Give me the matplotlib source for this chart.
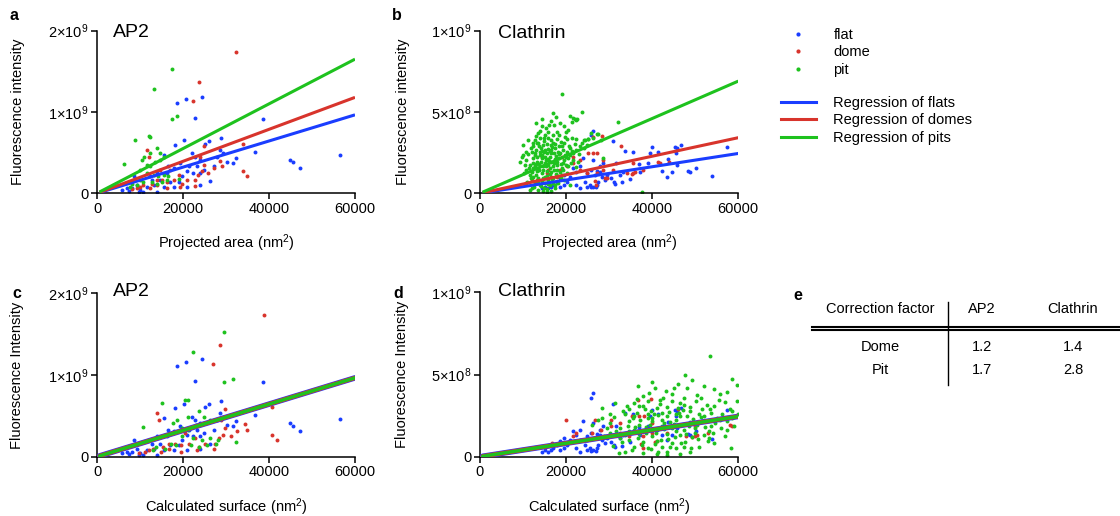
import numpy as np
import matplotlib.pyplot as plt
from matplotlib.lines import Line2D

plt.rcParams['font.family'] = ['Liberation Sans', 'DejaVu Sans']
plt.rcParams['mathtext.fontset'] = 'custom'
plt.rcParams['mathtext.rm'] = 'Liberation Sans'
plt.rcParams['mathtext.it'] = 'Liberation Sans:italic'

# AP2, projected area (nm2) vs intensity (x1e9)
ap2_flat = [(56500, 0.465), (47200, 0.31), (45500, 0.38), (44900, 0.41), (38500, 0.92), (36800, 0.51),
            (32300, 0.44), (30200, 0.39), (28900, 0.68), (29400, 0.49), (28600, 0.53), (24500, 1.19),
            (22700, 0.93), (20700, 1.16), (18700, 1.11), (20200, 0.65), (18100, 0.59), (26100, 0.64),
            (25200, 0.61), (26300, 0.15), (24000, 0.10), (22400, 0.25), (23200, 0.33), (20900, 0.27),
            (19400, 0.37), (17800, 0.31), (16300, 0.25), (15500, 0.47), (14700, 0.16), (13200, 0.10),
            (12400, 0.21), (11600, 0.08), (10100, 0.04), (9300, 0.10), (8500, 0.21), (8100, 0.06),
            (9700, 0.02), (10800, 0.02), (13900, 0.02), (15500, 0.08), (17000, 0.14), (19000, 0.14),
            (19700, 0.21), (21300, 0.33), (24000, 0.25), (24800, 0.29), (27100, 0.33), (31700, 0.37),
            (27900, 0.45), (13900, 0.25), (12800, 0.16), (24000, 0.41), (22800, 0.45), (22100, 0.49),
            (16600, 0.33), (17800, 0.08), (20900, 0.08), (7000, 0.06), (5800, 0.04), (7400, 0.03)]
ap2_dome = [(32300, 1.74), (23800, 1.37), (22400, 1.14), (33900, 0.61), (33900, 0.27), (34800, 0.21),
            (28600, 0.40), (24800, 0.58), (24000, 0.45), (24400, 0.27), (23600, 0.23), (27100, 0.31),
            (22800, 0.16), (22700, 0.09), (20900, 0.16), (19700, 0.12), (19000, 0.23), (17800, 0.16),
            (16300, 0.14), (13900, 0.16), (12800, 0.12), (11600, 0.53), (12000, 0.45), (10800, 0.10),
            (10100, 0.08), (9300, 0.06), (8100, 0.05), (14700, 0.29), (17000, 0.29), (15100, 0.16),
            (13900, 0.10), (24800, 0.35), (25900, 0.25), (29000, 0.33), (19400, 0.08), (16300, 0.06),
            (12400, 0.06)]
ap2_pit = [(17400, 1.53), (13200, 1.28), (18600, 0.95), (17400, 0.91), (12000, 0.70), (12400, 0.69),
           (8900, 0.66), (6300, 0.36), (11000, 0.45), (12400, 0.49), (13900, 0.56), (14600, 0.49),
           (11600, 0.35), (13500, 0.39), (14700, 0.41), (10100, 0.29), (11600, 0.25), (13200, 0.23),
           (14300, 0.21), (15100, 0.14), (13900, 0.12), (12800, 0.14), (10800, 0.14), (9300, 0.10),
           (7700, 0.08), (8100, 0.12), (10100, 0.16), (16300, 0.16), (15500, 0.23), (16600, 0.21),
           (12400, 0.33), (10400, 0.41), (15500, 0.45), (19000, 0.18)]

# Clathrin, projected area (nm2) vs intensity (x1e8)
clat_flat = [(57300, 2.84), (53800, 1.07), (50200, 1.54), (48800, 1.31), (48400, 1.38), (46800, 2.98),
             (45300, 2.84), (45700, 2.77), (45500, 2.47), (45800, 1.75), (44700, 1.30), (43500, 1.03),
             (42200, 1.35), (43700, 2.12), (41400, 2.57), (39900, 2.84), (39600, 2.47), (39100, 1.85),
             (37200, 1.34), (36900, 1.81), (35600, 2.57), (34800, 0.88), (33700, 2.63), (33100, 0.68),
             (33300, 1.34), (32500, 1.13), (31600, 1.89), (31100, 0.72), (31400, 0.58), (30800, 3.19),
             (30400, 0.92), (29400, 1.13), (29000, 0.82), (28300, 1.03), (27900, 1.65), (27100, 1.38),
             (26200, 2.05), (25900, 0.36), (27000, 0.36), (28600, 1.85),
             (26300, 3.85), (25900, 3.60), (24000, 2.16), (23200, 1.65), (22400, 1.34), (21700, 1.54),
             (20900, 1.03), (20100, 0.72), (19400, 0.51), (18600, 0.93), (17800, 0.72), (17000, 0.51),
             (16600, 0.41), (15900, 0.31), (15100, 0.41), (14300, 0.31), (22400, 0.51), (23200, 0.31),
             (24400, 0.72), (24800, 0.41), (25500, 0.51), (26300, 0.41), (27100, 0.51), (27500, 0.72),
             (24800, 1.23), (25900, 1.44), (26700, 1.13), (27900, 1.34), (19400, 1.13), (18600, 0.41)]
clat_dome = [(26200, 3.45), (32800, 2.88), (35600, 1.85), (41400, 1.91), (44000, 1.91), (28600, 2.05),
             (28600, 1.44), (26300, 2.47), (27200, 2.47), (31000, 1.44), (34100, 1.23), (35200, 1.17),
             (36000, 1.34), (29000, 0.92), (27000, 0.51), (26700, 0.75), (29400, 0.96),
             (28300, 3.50), (25200, 2.47), (23200, 2.06), (21700, 1.85), (20100, 1.65), (18600, 1.44),
             (17800, 1.03), (16600, 1.03), (15500, 1.23), (14300, 2.26), (15900, 1.44), (13200, 0.82),
             (12000, 0.82), (10800, 0.62), (23200, 1.44), (24800, 1.23), (27100, 1.23), (35600, 1.23),
             (37900, 1.44), (41800, 1.89), (19000, 2.26), (21700, 2.26)]
clat_pit = [(19100, 6.11), (14300, 4.57), (17000, 4.94), (17600, 4.69), (22100, 4.58), (22600, 4.56),
            (21300, 4.38), (14500, 4.16), (16100, 4.18), (17200, 4.18), (18600, 4.32), (20500, 3.91),
            (18000, 3.74), (18300, 3.60), (19900, 3.80), (11200, 3.29), (12800, 3.29), (13900, 3.40),
            (14900, 3.43), (15900, 3.40), (16600, 3.29), (10100, 2.94), (12400, 2.88), (13500, 3.09),
            (14700, 2.98), (15500, 3.02), (16400, 2.94), (17400, 3.02), (18400, 2.88), (19400, 3.09),
            (20300, 3.33), (21300, 3.40), (22400, 3.35), (24100, 3.29), (25200, 3.35), (12000, 2.57),
            (13000, 2.67), (13900, 2.57), (15100, 2.67), (16300, 2.61), (17200, 2.47), (18200, 2.57),
            (19200, 2.67), (20100, 2.57), (20900, 2.37), (21700, 2.47), (22400, 2.67), (9300, 1.95),
            (10800, 2.05), (12400, 2.16), (13300, 2.26), (14300, 2.16), (15300, 2.05), (16300, 2.26),
            (17400, 2.12), (18400, 2.20), (19500, 2.05), (20500, 2.16), (11600, 1.75), (12800, 1.65),
            (13800, 1.79), (14700, 1.65), (15900, 1.75), (16900, 1.65), (17800, 1.75), (19000, 1.58),
            (20000, 1.75), (10800, 1.44), (12000, 1.30), (13200, 1.38), (14300, 1.23), (15500, 1.38),
            (16600, 1.30), (17600, 1.17), (18600, 1.30), (12400, 1.03), (13500, 0.92), (14700, 0.96),
            (15900, 0.82), (17000, 0.92), (12800, 0.62), (13900, 0.51), (15100, 0.62), (16300, 0.51),
            (12000, 0.31), (13500, 0.20), (14700, 0.14), (15500, 0.27), (16600, 0.14), (11500, 0.20),
            (13200, 3.09), (14200, 2.78), (15500, 2.47), (16600, 1.95), (17800, 1.44), (19000, 1.13),
            (13900, 2.37), (15100, 1.85), (16300, 1.54), (13200, 1.95), (12400, 1.54), (11600, 1.13),
            (10800, 2.57), (10100, 2.37), (17400, 2.78), (18600, 2.47), (19700, 2.37), (20900, 2.78),
            (23200, 2.88), (23600, 3.09), (21700, 2.05), (22800, 1.95), (20500, 1.65), (19400, 0.82),
            (18200, 0.62), (17400, 0.31), (15500, 0.10), (14300, 2.37), (14900, 3.23), (15900, 3.80),
            (16900, 3.60), (13500, 3.70), (12800, 2.47), (13500, 1.54), (14600, 1.44), (15600, 1.09),
            (16900, 0.62), (18000, 1.95), (19200, 1.85), (16600, 2.47), (15100, 2.26),
            (37700, 0.08), (32100, 4.36), (27300, 3.66), (28500, 2.16), (28200, 3.29), (23600, 5.00),
            (21700, 4.63), (22400, 4.53), (25900, 3.70), (27100, 3.64), (25200, 3.33), (26300, 3.40),
            (24400, 3.29),
            (11900, 2.81), (12700, 2.33), (13700, 2.93), (14100, 1.91), (14800, 2.52), (15700, 2.71),
            (16100, 1.99), (16800, 2.84), (17700, 2.31), (18700, 1.78), (12300, 1.87), (13100, 1.12),
            (13800, 1.46), (14500, 0.78), (15300, 1.66), (16200, 1.18), (17100, 1.41), (18100, 1.06),
            (19300, 1.42), (11300, 1.58), (11800, 0.92), (12600, 0.41), (13400, 0.71), (14200, 0.44),
            (15000, 1.01), (15800, 0.58), (16700, 0.86), (17500, 0.54), (18900, 0.97), (20300, 1.24),
            (21100, 1.88), (20700, 2.92), (19800, 3.46), (18800, 3.17), (17900, 3.36), (16900, 3.12),
            (15200, 3.58), (14000, 3.86), (13000, 3.54), (12200, 3.11), (11100, 2.42), (10500, 1.72),
            (9800, 2.21), (10300, 1.24), (11000, 0.68), (12900, 1.83), (14400, 2.62), (15800, 2.12),
            (16500, 2.66), (17300, 1.87), (18300, 2.41), (19100, 2.91), (19900, 2.23), (21400, 2.62),
            (22000, 3.02), (23000, 2.43), (24200, 2.78), (24900, 2.94), (22200, 1.64), (20800, 0.52),
            (16400, 4.42), (15400, 4.02), (19400, 4.12), (20900, 4.74), (13100, 4.31), (14800, 0.31)]

# correction factors (surface / projected area)
shapes = ['Dome', 'Pit']
ap2_factor = [1.2, 1.7]
clat_factor = [1.4, 2.8]

# regression values at 60000 nm2 (flat, dome, pit)
ap2_fit_end = [0.965, 1.18, 1.65]      # x1e9
clat_fit_end = [2.45, 3.42, 6.9]       # x1e8

BLUE = '#1a3dff'
RED = '#d8342c'
GREEN = '#1ec21e'
DOT = 8

W, H = 1120, 516
fig = plt.figure(figsize=(W / 100, H / 100), dpi=100)


def rect(left, top, right, bottom):
    return [left / W, 1 - bottom / H, (right - left) / W, (bottom - top) / H]


def style_axis(ax, ymax, yticks, ylabels, xlabel, ylabel, ylab_x):
    for s in ['top', 'right']:
        ax.spines[s].set_visible(False)
    for s in ['left', 'bottom']:
        ax.spines[s].set_linewidth(1.1)
    ax.set_xlim(0, 60000)
    ax.set_ylim(0, ymax)
    ax.set_xticks([0, 20000, 40000, 60000])
    ax.set_xticklabels(['0', '20000', '40000', '60000'])
    ax.set_yticks(yticks)
    ax.set_yticklabels(ylabels)
    ax.tick_params(direction='out', length=4, width=1.1, labelsize=10.5, pad=2)
    ax.set_xlabel(xlabel, fontsize=10.5)
    ax.set_ylabel(ylabel, fontsize=10.5)
    ax.xaxis.set_label_coords(0.5, -0.24)
    ax.yaxis.set_label_coords(ylab_x, 0.5)


def pts(lst, xscale=1.0, yscale=1.0):
    a = np.array(lst, dtype=float)
    return a[:, 0] * xscale, a[:, 1] * yscale


line_x = np.array([600, 60000])

ap2_ticks = [0, 1e9, 2e9]
ap2_labels = ['0', r'1×10$^{9}$', r'2×10$^{9}$']
clat_ticks = [0, 5e8, 1e9]
clat_labels = ['0', r'5×10$^{8}$', r'1×10$^{9}$']
proj_label = r'Projected area (nm$^{2}$)'
surf_label = r'Calculated surface (nm$^{2}$)'

# a: AP2 projected
ax = fig.add_axes(rect(97, 30.7, 355, 193.3))
for data, c in [(ap2_flat, BLUE), (ap2_dome, RED), (ap2_pit, GREEN)]:
    x, y = pts(data, 1, 1e9)
    ax.scatter(x, y, s=DOT, color=c, linewidths=0, zorder=2)
for end, c in zip(ap2_fit_end, [BLUE, RED, GREEN]):
    ax.plot(line_x, line_x * end * 1e9 / 60000, color=c, lw=2.2, zorder=3, solid_capstyle='butt')
style_axis(ax, 2e9, ap2_ticks, ap2_labels, proj_label, 'Fluorescence intensity', -0.28)
ax.text(0.062, 0.99, 'AP2', transform=ax.transAxes, fontsize=14, va='center')

# b: Clathrin projected
ax = fig.add_axes(rect(480, 30.7, 738.3, 193.3))
for data, c in [(clat_flat, BLUE), (clat_dome, RED), (clat_pit, GREEN)]:
    x, y = pts(data, 1, 1e8)
    ax.scatter(x, y, s=DOT, color=c, linewidths=0, zorder=2)
for end, c in zip(clat_fit_end, [BLUE, RED, GREEN]):
    ax.plot(line_x, line_x * end * 1e8 / 60000, color=c, lw=2.2, zorder=3, solid_capstyle='butt')
style_axis(ax, 1e9, clat_ticks, clat_labels, proj_label, 'Fluorescence intensity', -0.27)
ax.text(0.07, 0.985, 'Clathrin', transform=ax.transAxes, fontsize=14, va='center')

# c: AP2 calculated surface (all fits collapse onto the flat one)
ax = fig.add_axes(rect(97, 293.3, 355, 456.7))
for data, f, c in [(ap2_flat, 1.0, BLUE), (ap2_dome, ap2_factor[0], RED), (ap2_pit, ap2_factor[1], GREEN)]:
    x, y = pts(data, f, 1e9)
    ax.scatter(x, y, s=DOT, color=c, linewidths=0, zorder=2)
for c, lw in zip([BLUE, RED, GREEN], [4.0, 3.2, 2.4]):
    ax.plot(line_x, line_x * ap2_fit_end[0] * 1e9 / 60000, color=c, lw=lw, zorder=3, solid_capstyle='round')
style_axis(ax, 2e9, ap2_ticks, ap2_labels, surf_label, 'Fluorescence Intensity', -0.283)
ax.text(0.062, 1.008, 'AP2', transform=ax.transAxes, fontsize=14, va='center')

# d: Clathrin calculated surface
ax = fig.add_axes(rect(480, 292.3, 738.3, 456.7))
for data, f, c in [(clat_flat, 1.0, BLUE), (clat_dome, clat_factor[0], RED), (clat_pit, clat_factor[1], GREEN)]:
    x, y = pts(data, f, 1e8)
    ax.scatter(x, y, s=DOT, color=c, linewidths=0, zorder=2)
for c, lw in zip([BLUE, RED, GREEN], [4.0, 3.2, 2.4]):
    ax.plot(line_x, line_x * clat_fit_end[0] * 1e8 / 60000, color=c, lw=lw, zorder=3, solid_capstyle='round')
style_axis(ax, 1e9, clat_ticks, clat_labels, surf_label, 'Fluorescence Intensity', -0.275)
ax.text(0.07, 1.007, 'Clathrin', transform=ax.transAxes, fontsize=14, va='center')

# panel letters
for letter, px, py in [('a', 10, 15), ('b', 392, 15), ('c', 12, 293), ('d', 393, 293), ('e', 793, 295)]:
    fig.text(px / W, 1 - py / H, letter, fontsize=11.5, fontweight='bold', va='center', ha='left')

# legend
dot_handles = [Line2D([], [], ls='none', marker='o', ms=3, color=c, mew=0) for c in [BLUE, RED, GREEN]]
fig.legend(dot_handles, ['flat', 'dome', 'pit'], loc='upper left',
           bbox_to_anchor=(775 / W, 1 - 22 / H), frameon=False, fontsize=10.5,
           handlelength=2.4, handletextpad=1.2, labelspacing=0.25, borderaxespad=0)
line_handles = [Line2D([], [], color=c, lw=2.2) for c in [BLUE, RED, GREEN]]
fig.legend(line_handles, ['Regression of flats', 'Regression of domes', 'Regression of pits'],
           loc='upper left', bbox_to_anchor=(775 / W, 1 - 90 / H), frameon=False, fontsize=10.5,
           handlelength=2.4, handletextpad=1.2, labelspacing=0.25, borderaxespad=0)

# e: correction factor table
col_x = [880, 982, 1073]
fig.text(col_x[0] / W, 1 - 309 / H, 'Correction factor', fontsize=10.5, ha='center', va='center')
fig.text(col_x[1] / W, 1 - 309 / H, 'AP2', fontsize=10.5, ha='center', va='center')
fig.text(col_x[2] / W, 1 - 309 / H, 'Clathrin', fontsize=10.5, ha='center', va='center')
for i, (name, v1, v2) in enumerate(zip(shapes, ap2_factor, clat_factor)):
    ry = 347 + i * 23
    fig.text(col_x[0] / W, 1 - ry / H, name, fontsize=10.5, ha='center', va='center')
    fig.text(col_x[1] / W, 1 - ry / H, f'{v1:.1f}', fontsize=10.5, ha='center', va='center')
    fig.text(col_x[2] / W, 1 - ry / H, f'{v2:.1f}', fontsize=10.5, ha='center', va='center')
fig.add_artist(Line2D([948 / W, 948 / W], [1 - 302 / H, 1 - 385 / H], color='black', lw=1.0))
for yy in [326.6, 329.8]:
    fig.add_artist(Line2D([812 / W, 1120 / W], [1 - yy / H, 1 - yy / H], color='black', lw=1.5))

fig.savefig('out.png', dpi=100)
